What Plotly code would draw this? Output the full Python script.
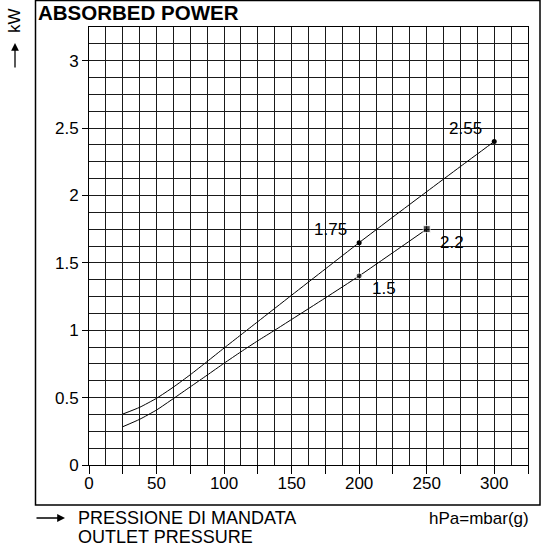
import plotly.graph_objects as go

# ---- data ----
pressure_upper = [25, 37.5, 50, 62.5, 75, 87.5, 100, 112.5, 125, 150, 175, 200, 225, 250, 275, 300]
power_upper = [0.378, 0.428, 0.495, 0.578, 0.670, 0.768, 0.868, 0.966, 1.064, 1.260, 1.455, 1.65, 1.84, 2.028, 2.215, 2.40]
pressure_lower = [25, 37.5, 50, 62.5, 75, 87.5, 100, 112.5, 125, 137.5, 150, 175, 200, 225, 250]
power_lower = [0.284, 0.339, 0.408, 0.493, 0.580, 0.667, 0.755, 0.840, 0.922, 1.0, 1.080, 1.240, 1.403, 1.576, 1.75]

upper_pts_x = [200, 300]
upper_pts_y = [1.65, 2.40]
lower_pts_x = [200, 250]
lower_pts_y = [1.403, 1.75]

point_labels = ["1.75", "2.55", "2.2", "1.5"]
label_x = [178.5, 278.5, 269, 218.5]
label_y = [1.75, 2.50, 1.65, 1.31]

x_tickvals = [0, 25, 50, 75, 100, 125, 150, 175, 200, 225, 250, 275, 300, 325]
x_ticktext = ["0", "", "50", "", "100", "", "150", "", "200", "", "250", "", "300", ""]
y_tickvals = [0, 0.5, 1, 1.5, 2, 2.5, 3]
y_ticktext = ["0", "0.5", "1", "1.5", "2", "2.5", "3"]

FONT = "Arial, Liberation Sans, sans-serif"
W, H = 541, 552
L, R, T, B = 89, 13, 27, 87
pw, ph = W - L - R, H - T - B

def px(xp):
    return (xp - L) / pw

def py(yp):
    return (H - B - yp) / ph

fig = go.Figure()
fig.add_trace(go.Scatter(x=pressure_upper, y=power_upper, mode="lines",
                         line=dict(color="black", width=1, shape="spline", smoothing=0.5),
                         hoverinfo="skip", showlegend=False))
fig.add_trace(go.Scatter(x=pressure_lower, y=power_lower, mode="lines",
                         line=dict(color="black", width=1, shape="spline", smoothing=0.5),
                         hoverinfo="skip", showlegend=False))
fig.add_trace(go.Scatter(x=upper_pts_x, y=upper_pts_y, mode="markers",
                         marker=dict(color="black", size=5, symbol="circle"),
                         showlegend=False))
fig.add_trace(go.Scatter(x=lower_pts_x, y=lower_pts_y, mode="markers",
                         marker=dict(color="black", size=[6, 7], symbol=["circle", "square"]),
                         showlegend=False))

for t, x, y in zip(point_labels, label_x, label_y):
    fig.add_annotation(x=x, y=y, xref="x", yref="y", text=t, showarrow=False,
                       font=dict(family=FONT, size=17, color="black"))

grid_col = "#1a1a1a"
fig.update_xaxes(range=[0, 325], tickvals=x_tickvals, ticktext=x_ticktext,
                 ticks="outside", ticklen=8, tickcolor="black", tickwidth=1,
                 ticklabelstandoff=-5,
                 showgrid=True, gridcolor=grid_col, gridwidth=1,
                 minor=dict(dtick=12.5, tick0=0, showgrid=True, gridcolor=grid_col, gridwidth=1),
                 showline=True, linecolor="black", linewidth=1, mirror=True,
                 zeroline=False, tickfont=dict(family=FONT, size=17, color="black"),
                 fixedrange=True)
fig.update_yaxes(range=[0, 3.25], tickvals=y_tickvals, ticktext=y_ticktext,
                 ticks="outside", ticklen=6, tickcolor="black", tickwidth=1,
                 showgrid=True, gridcolor=grid_col, gridwidth=1,
                 minor=dict(dtick=0.125, tick0=0, showgrid=True, gridcolor=grid_col, gridwidth=1),
                 showline=True, linecolor="black", linewidth=1, mirror=True,
                 zeroline=False, tickfont=dict(family=FONT, size=17, color="black"),
                 fixedrange=True)

# outer frame
fig.add_shape(type="rect", xref="paper", yref="paper",
              x0=px(35.5), x1=px(540), y0=py(505), y1=py(0.5),
              line=dict(color="black", width=1.5), fillcolor="rgba(0,0,0,0)")

# title
fig.add_annotation(xref="paper", yref="paper", x=px(36), y=py(-1.5), xanchor="left", yanchor="top",
                   text="<b>ABSORBED POWER</b>", showarrow=False,
                   font=dict(family=FONT, size=20.5, color="black"))

# y-axis label with arrow
fig.add_annotation(xref="paper", yref="paper", x=px(15), y=py(21), xanchor="center", yanchor="middle",
                   text="kW", textangle=-90,
                   showarrow=False, font=dict(family=FONT, size=17, color="black"))
fig.add_annotation(xref="paper", yref="paper", x=px(15), y=py(43), text="", showarrow=True,
                   ax=0, ay=26, arrowhead=2, arrowsize=1.2, arrowwidth=1.3, arrowcolor="black")

# x-axis label with arrow
fig.add_annotation(xref="paper", yref="paper", x=px(65), y=py(518), text="", showarrow=True,
                   ax=-30, ay=0, arrowhead=2, arrowsize=1.2, arrowwidth=1.3, arrowcolor="black")
fig.add_annotation(xref="paper", yref="paper", x=px(76), y=py(518), xanchor="left", yanchor="middle",
                   text="PRESSIONE DI MANDATA", showarrow=False,
                   font=dict(family=FONT, size=18, color="black"))
fig.add_annotation(xref="paper", yref="paper", x=px(76), y=py(537), xanchor="left", yanchor="middle",
                   text="OUTLET PRESSURE", showarrow=False,
                   font=dict(family=FONT, size=18, color="black"))
fig.add_annotation(xref="paper", yref="paper", x=px(531), y=py(518), xanchor="right", yanchor="middle",
                   text="hPa=mbar(g)", showarrow=False,
                   font=dict(family=FONT, size=17, color="black"))

fig.update_layout(width=W, height=H, margin=dict(l=L, r=R, t=T, b=B, pad=0),
                  plot_bgcolor="white", paper_bgcolor="white", showlegend=False)

fig.write_html("out.html", config={"displayModeBar": False},
               post_script="document.body.style.margin='0';document.body.style.padding='0';")
